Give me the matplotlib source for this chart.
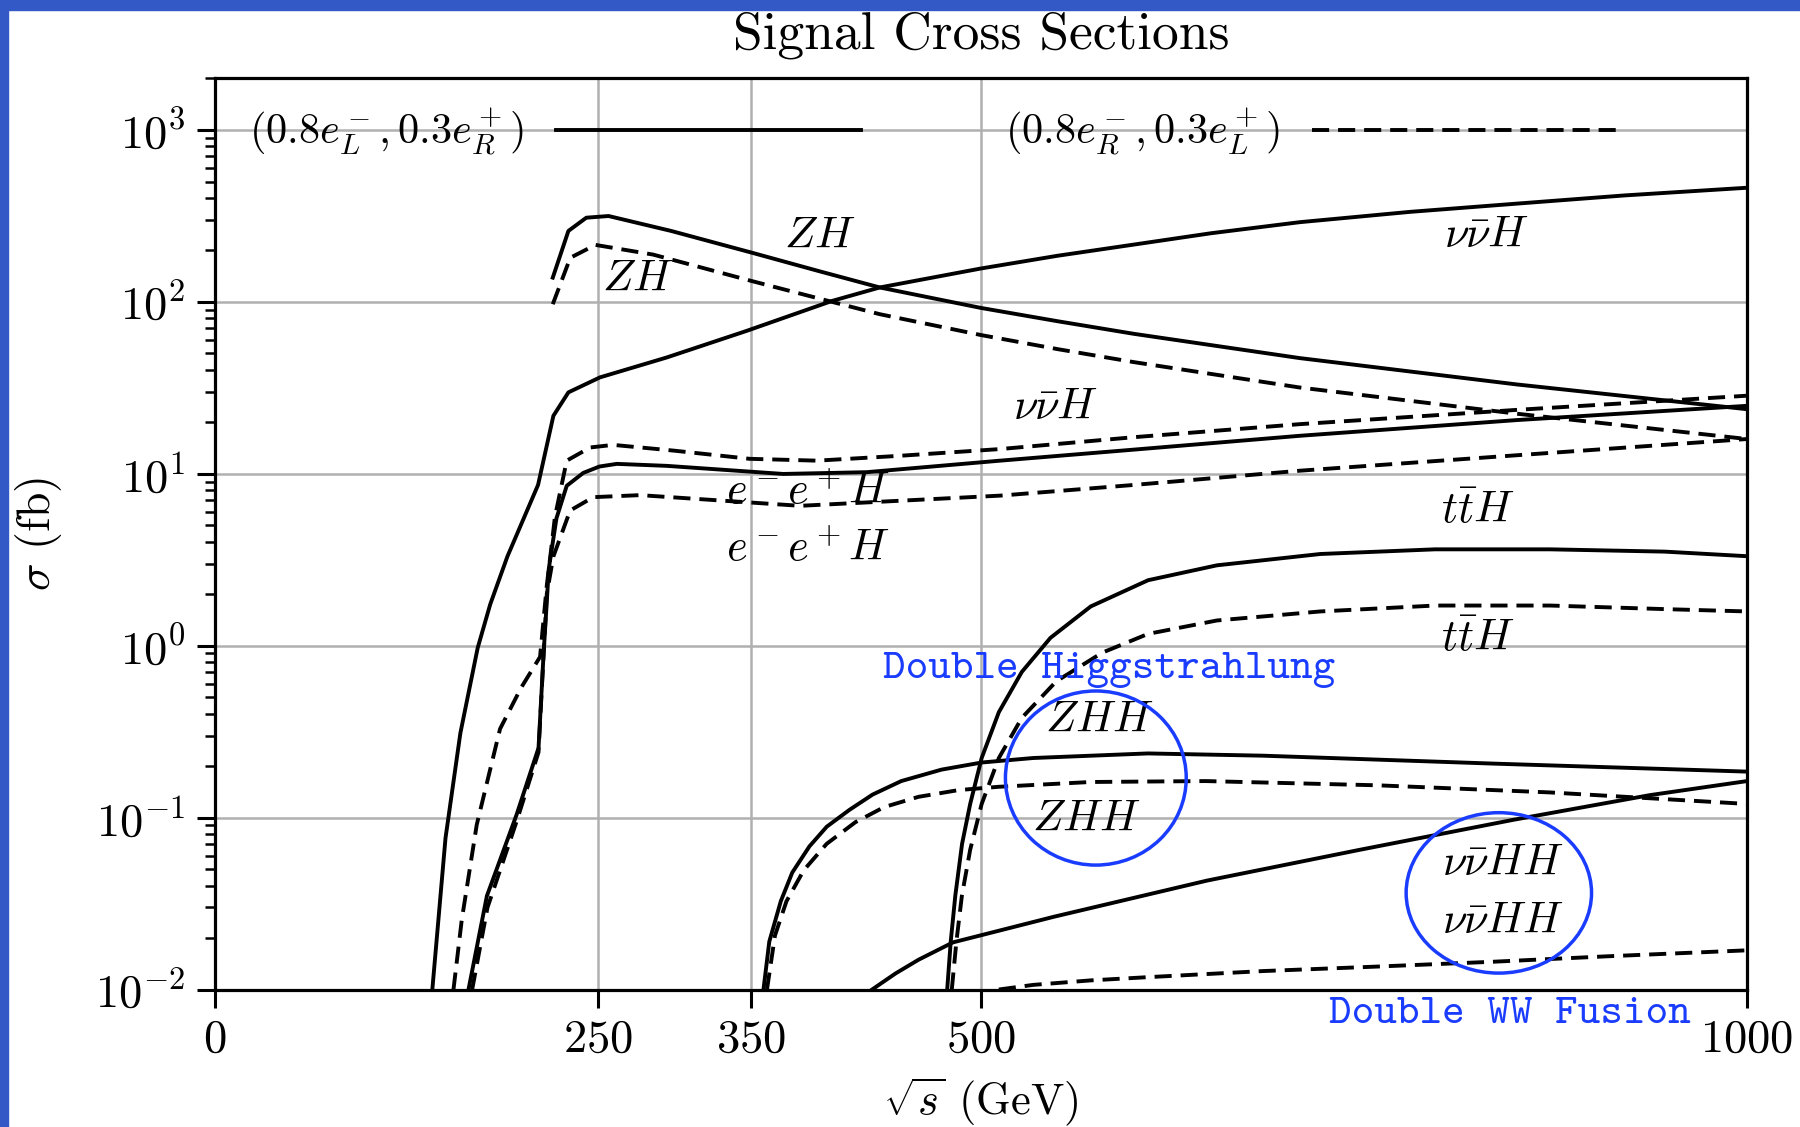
import matplotlib
matplotlib.use("Agg")
import matplotlib.pyplot as plt
from matplotlib.patches import Ellipse, Rectangle
from matplotlib.ticker import NullLocator

# sqrt(s) in GeV, cross sections in fb
# solid: (0.8 e-_L, 0.3 e+_R), dashed: (0.8 e-_R, 0.3 e+_L)
zh_lr_e = [220.6, 230.8, 242.5, 257, 297.8, 350.3, 395, 434, 500, 550, 600, 708, 850, 1000]
zh_lr = [138, 258, 308, 315, 258, 193, 150, 121, 92, 77, 65, 47, 33, 23.7]
zh_rl_e = [220.6, 232, 248.4, 286, 350.3, 395, 434, 500, 550, 600, 708, 850, 1000]
zh_rl = [96.7, 180, 214, 188, 132, 104, 84.6, 64, 53, 44.5, 31.7, 22.3, 15.9]

nnh_lr_e = [142, 150.6, 160.3, 171.6, 179.8, 191, 211, 221, 230.8, 251.4, 295, 347,
            402.8, 434, 500, 550, 600, 650, 708, 780, 850, 920, 1000]
nnh_lr = [0.01, 0.076, 0.31, 0.97, 1.74, 3.3, 8.6, 21.7, 29.7, 36.3, 47.4, 67.6,
          101, 121, 156, 185, 215, 250, 290, 333, 372, 415, 460]
nnh_rl_e = [155.8, 161.2, 171, 186.2, 200, 212.3, 216.7, 219.5, 222, 229.7, 245, 260,
            300, 349, 393, 447, 512.5, 600, 708, 850, 1000]
nnh_rl = [0.01, 0.0254, 0.091, 0.328, 0.57, 0.86, 2.24, 3.6, 5.6, 11.9, 14.2, 14.7,
          13.6, 12.2, 11.9, 12.7, 13.9, 16.3, 19.4, 23.5, 28.4]

eeh_lr_e = [165.6, 177.6, 197, 211.3, 214.5, 218, 223, 229.7, 240.5, 251, 262.4, 295,
            371, 425.5, 512.5, 600, 708, 850, 1000]
eeh_lr = [0.01, 0.035, 0.104, 0.254, 0.86, 2.8, 5.5, 8.5, 10.1, 11.0, 11.4, 11.1,
          9.96, 10.2, 11.9, 13.8, 16.6, 20.5, 24.8]
eeh_rl_e = [168, 178, 197, 211.3, 214, 216.7, 221, 231.9, 247, 277.6, 382, 512.5,
            600, 708, 850, 1000]
eeh_rl = [0.01, 0.03, 0.095, 0.24, 0.7, 2.0, 3.3, 6.1, 7.3, 7.5, 6.5, 7.45,
          8.6, 10.4, 12.8, 15.9]

tth_lr_e = [478, 480.3, 483.3, 487.7, 493, 500.5, 511.7, 526.7, 545.4, 571.7, 609.1,
            654, 721.5, 796.4, 871.4, 946.3, 1000]
tth_lr = [0.01, 0.019, 0.0352, 0.0703, 0.12, 0.222, 0.41, 0.703, 1.11, 1.69, 2.4,
          2.93, 3.41, 3.63, 3.63, 3.52, 3.31]
tth_rl_e = [481, 484, 487.6, 493, 500.5, 511.7, 526.7, 549.2, 579.2, 609.1, 654,
            721.5, 796.4, 871.4, 946.3, 1000]
tth_rl = [0.01, 0.019, 0.0352, 0.065, 0.12, 0.222, 0.38, 0.62, 0.91, 1.17, 1.40,
          1.58, 1.71, 1.71, 1.63, 1.58]

zhh_lr_e = [358.1, 361.9, 369.4, 376.9, 388.1, 399.4, 414.3, 429.3, 448, 474.3, 500.5,
            534.2, 609, 684, 834, 1000]
zhh_lr = [0.01, 0.019, 0.0326, 0.0479, 0.068, 0.0885, 0.111, 0.136, 0.163, 0.19, 0.209,
          0.222, 0.236, 0.229, 0.206, 0.185]
zhh_rl_e = [360.4, 365.6, 373.1, 384.4, 399.3, 418.1, 436.8, 459.3, 485.5, 511.7, 571.7,
            646.6, 759, 871.4, 1000]
zhh_rl = [0.01, 0.0206, 0.0326, 0.0494, 0.0703, 0.094, 0.115, 0.132, 0.1445, 0.151, 0.161,
          0.163, 0.154, 0.14, 0.12]

nnhh_lr_e = [429, 444.3, 459.3, 481.8, 547.7, 647.6, 747.5, 847.4, 936.5, 1000]
nnhh_lr = [0.01, 0.0124, 0.0149, 0.0188, 0.0265, 0.043, 0.065, 0.097, 0.135, 0.163]
nnhh_rl_e = [511.7, 534.2, 571.7, 609.1, 684, 759, 834, 908.8, 1000]
nnhh_rl = [0.01, 0.01064, 0.0113, 0.0118, 0.0128, 0.0136, 0.0145, 0.0156, 0.0169]

x_ticks = [0, 250, 350, 500, 1000]
pol_labels = [r"$(0.8e^-_L,0.3e^+_R)$", r"$(0.8e^-_R,0.3e^+_L)$"]

# process labels: (text, sqrt(s), sigma)
proc_labels = [
    (r"$ZH$", 395, 240), (r"$ZH$", 276, 134),
    (r"$\nu\bar{\nu}H$", 830, 240), (r"$\nu\bar{\nu}H$", 549, 24),
    (r"$e^-e^+H$", 387, 7.8), (r"$e^-e^+H$", 387, 3.6),
    (r"$t\bar{t}H$", 824, 6.0), (r"$t\bar{t}H$", 824, 1.08),
    (r"$ZHH$", 577, 0.363), (r"$ZHH$", 569, 0.097),
    (r"$\nu\bar{\nu}HH$", 841, 0.054), (r"$\nu\bar{\nu}HH$", 841, 0.0247),
]

plt.rcParams["font.family"] = "serif"
plt.rcParams["font.serif"] = ["cmr10"]
plt.rcParams["mathtext.fontset"] = "cm"
plt.rcParams["axes.formatter.use_mathtext"] = True
plt.rcParams["axes.unicode_minus"] = True

fig = plt.figure(figsize=(18, 11.27), dpi=100)
ax = fig.add_axes([0.1193, 0.122, 0.8513, 0.8088])

lw = 2.8
dash = (4.4, 2.3)
pairs = [(zh_lr_e, zh_lr, zh_rl_e, zh_rl), (nnh_lr_e, nnh_lr, nnh_rl_e, nnh_rl),
         (eeh_lr_e, eeh_lr, eeh_rl_e, eeh_rl), (tth_lr_e, tth_lr, tth_rl_e, tth_rl),
         (zhh_lr_e, zhh_lr, zhh_rl_e, zhh_rl), (nnhh_lr_e, nnhh_lr, nnhh_rl_e, nnhh_rl)]
handles = []
for e1, s1, e2, s2 in pairs:
    l1, = ax.plot(e1, s1, color="black", lw=lw, zorder=3)
    l2, = ax.plot(e2, s2, color="black", lw=lw, dashes=dash, zorder=3)
    if not handles:
        handles = [l1, l2]

ax.set_yscale("log")
ax.set_xlim(0, 1000)
ax.set_ylim(1e-2, 2e3)
ax.set_xticks(x_ticks)
ax.xaxis.set_minor_locator(NullLocator())
ax.grid(True, which="major", color="#b0b0b0", lw=1.8, zorder=0)
for s in ax.spines.values():
    s.set_linewidth(2.3)
ax.tick_params(axis="both", which="major", direction="out", length=13, width=2.2,
               labelsize=33.5, pad=8)
ax.tick_params(axis="y", which="minor", direction="out", length=7, width=1.8)

for txt, xe, ys in proc_labels:
    ax.text(xe, ys, txt, fontsize=32, ha="center", va="center", zorder=2)

blue = "#1a3cff"
ax.text(436, 0.724, "Double Higgstrahlung", family="cmtt10", fontsize=31,
        color=blue, ha="left", va="center")
ax.text(727, 0.0071, "Double WW Fusion", family="cmtt10", fontsize=31,
        color=blue, ha="left", va="center")
ax.add_patch(Ellipse((0.575, 0.232), 0.118, 0.191, transform=ax.transAxes,
                     fill=False, ec=blue, lw=2.5, zorder=4))
ax.add_patch(Ellipse((0.838, 0.106), 0.121, 0.176, transform=ax.transAxes,
                     fill=False, ec=blue, lw=2.5, zorder=4))

ax.legend(handles, pol_labels, ncol=2, markerfirst=False, frameon=False,
          loc="center left", bbox_to_anchor=(0.0225, 0.9408), borderpad=0,
          borderaxespad=0, handlelength=7.2, handletextpad=0.75, columnspacing=3.4,
          fontsize=30.5)

ax.set_title("Signal Cross Sections", fontsize=38.5, pad=21)
ax.set_xlabel(r"$\sqrt{s}$ (GeV)", fontsize=32, labelpad=11)
ax.set_ylabel(r"$\sigma$ (fb)", fontsize=33, labelpad=22)

# blue screenshot frame on top and left edges
fig.add_artist(Rectangle((0, 1 - 10 / 1127), 1, 10 / 1127, transform=fig.transFigure,
                         color="#3259c5", zorder=10))
fig.add_artist(Rectangle((0, 0), 8 / 1800, 1, transform=fig.transFigure,
                         color="#3259c5", zorder=10))

fig.savefig("out.png", dpi=100)
